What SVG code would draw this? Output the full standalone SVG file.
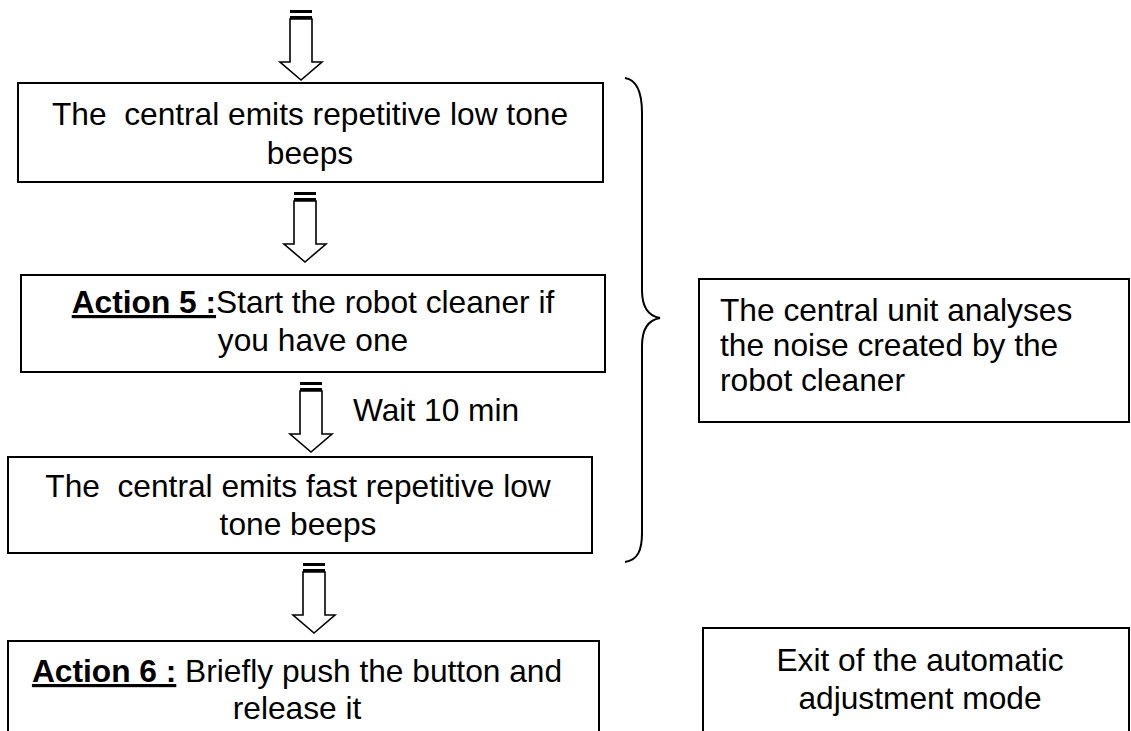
<svg xmlns="http://www.w3.org/2000/svg" width="1131" height="731" viewBox="0 0 1131 731">
<style>
  .box { fill: #fff; stroke: #000; stroke-width: 2; }
  .t { font-family: "Liberation Sans", Arial, sans-serif; font-size: 31.7px; fill: #000; }
  .b { font-weight: bold; text-decoration: underline; }
  .arrow { fill: #fff; stroke: #000; stroke-width: 1.6; stroke-linejoin: miter; }
  .brace { fill: none; stroke: #000; stroke-width: 2; }
</style>
<defs>
  <g id="blockArrow">
    <rect x="-11" y="0" width="22" height="3" fill="#000"/>
    <rect x="-11" y="6" width="22" height="3" fill="#000"/>
    <path class="arrow" d="M-11,9 L-11,52 L-21,52 L0,70 L21,52 L11,52 L11,9 Z"/>
  </g>
</defs>
<rect width="1131" height="731" fill="#fff"/>

<g id="connectors">
  <use href="#blockArrow" x="301" y="10"/>
  <use href="#blockArrow" x="305" y="192"/>
  <use href="#blockArrow" x="311" y="382"/>
  <use href="#blockArrow" x="314" y="563"/>
  <text class="t" x="353" y="421">Wait 10 min</text>
  <path class="brace" d="M625,78 C638,80 642,95 642,113 L642,290 C642,306 648,316 660,318 C648,320 642,330 642,346 L642,533 C642,550 638,560 625,562"/>
</g>

<g id="node1">
  <rect class="box" x="18" y="83" width="585" height="99"/>
  <text class="t" text-anchor="middle" x="310" y="125" xml:space="preserve">The  central emits repetitive low tone</text>
  <text class="t" text-anchor="middle" x="310" y="164">beeps</text>
</g>

<g id="node2">
  <rect class="box" x="21" y="275" width="584" height="97"/>
  <text class="t" text-anchor="middle" x="313" y="313"><tspan class="b">Action 5 :</tspan>Start the robot cleaner if</text>
  <text class="t" text-anchor="middle" x="313" y="351">you have one</text>
</g>

<g id="node3">
  <rect class="box" x="8" y="457" width="584" height="96"/>
  <text class="t" text-anchor="middle" x="298" y="497" xml:space="preserve">The  central emits fast repetitive low</text>
  <text class="t" text-anchor="middle" x="298" y="535">tone beeps</text>
</g>

<g id="node4">
  <rect class="box" x="8" y="641" width="591" height="100"/>
  <text class="t" text-anchor="middle" x="297" y="682" xml:space="preserve"><tspan class="b">Action 6 :</tspan> Briefly push the button and</text>
  <text class="t" text-anchor="middle" x="297" y="719">release it</text>
</g>

<g id="node5">
  <rect class="box" x="699" y="279" width="430" height="143"/>
  <text class="t" x="720" y="321">The central unit analyses</text>
  <text class="t" x="720" y="356">the noise created by the</text>
  <text class="t" x="720" y="391">robot cleaner</text>
</g>

<g id="node6">
  <rect class="box" x="703" y="628" width="426" height="110"/>
  <text class="t" text-anchor="middle" x="920" y="671">Exit of the automatic</text>
  <text class="t" text-anchor="middle" x="920" y="709">adjustment mode</text>
</g>
</svg>
